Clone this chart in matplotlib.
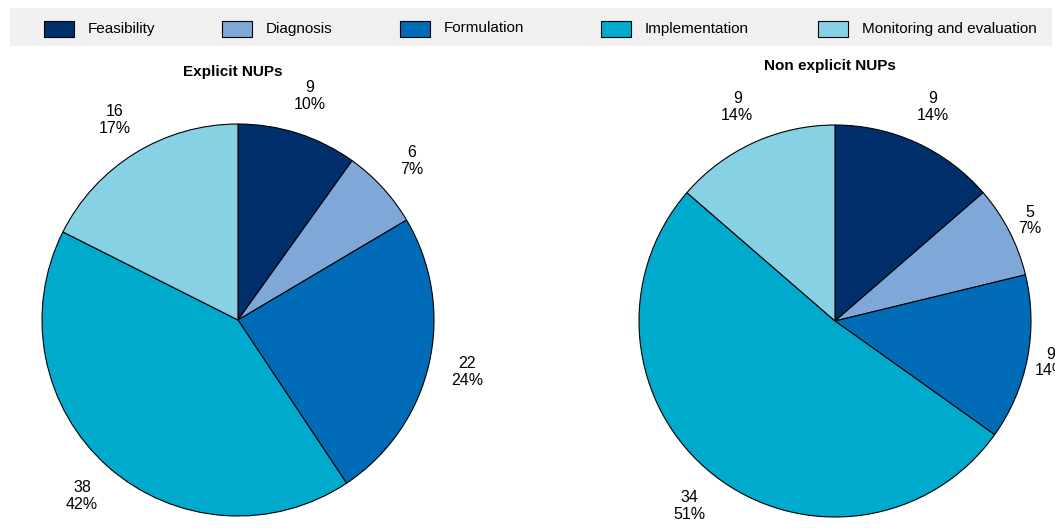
import numpy as np
import matplotlib
matplotlib.use('Agg')
import matplotlib.pyplot as plt
from matplotlib.patches import Rectangle

categories = ['Feasibility', 'Diagnosis', 'Formulation', 'Implementation', 'Monitoring and evaluation']
colors = ['#002F6C', '#7FA8D9', '#006BB6', '#00AACC', '#86D1E4']

explicit_counts = [9, 6, 22, 38, 16]
explicit_pct = [10, 7, 24, 42, 17]
non_explicit_counts = [9, 5, 9, 34, 9]
non_explicit_pct = [14, 7, 14, 51, 14]

plt.rcParams['font.family'] = ['Liberation Sans', 'DejaVu Sans']

W, H = 1055, 528
R = 196
fig = plt.figure(figsize=(W / 100, H / 100), dpi=100)
ax = fig.add_axes([0, 0, 1, 1])

# legend strip
ax.add_patch(Rectangle((10, H - 46), 1042, 38, facecolor='#F0F0F0', edgecolor='none'))
legend_x = [44, 222, 400, 601, 818]
for x, name, c in zip(legend_x, categories, colors):
    ax.add_patch(Rectangle((x, H - 37), 30, 16, facecolor=c, edgecolor='black', linewidth=0.8))
    ax.text(x + 44, H - 28.5, name, fontsize=11, va='center', ha='left')


def draw_pie(counts, pct, center, title, title_y):
    labels = [f'{n}\n{p}%' for n, p in zip(counts, pct)]
    wedges, texts = ax.pie(counts, colors=colors, startangle=90, counterclock=False,
                           center=center, radius=R, labels=labels, labeldistance=1.2,
                           wedgeprops=dict(edgecolor='black', linewidth=0.8),
                           textprops=dict(fontsize=11.5, ha='center', va='center',
                                          linespacing=1.15),
                           frame=True)
    ax.text(center[0] - 5, H - title_y, title, fontsize=11, fontweight='bold',
            ha='center', va='center')
    return wedges, texts


draw_pie(explicit_counts, explicit_pct, (238, H - 320), 'Explicit NUPs', 72)
wedges, texts = draw_pie(non_explicit_counts, non_explicit_pct, (835, H - 321),
                         'Non explicit NUPs', 66)
# labels on the right side of the second pie sit closer to the rim
for i in (1, 2):
    w = wedges[i]
    mid = np.deg2rad((w.theta1 + w.theta2) / 2)
    texts[i].set_position((w.center[0] + 1.12 * R * np.cos(mid),
                           w.center[1] + 1.12 * R * np.sin(mid)))

ax.set_xlim(0, W)
ax.set_ylim(0, H)
ax.axis('off')
fig.savefig('out.png', dpi=100)
